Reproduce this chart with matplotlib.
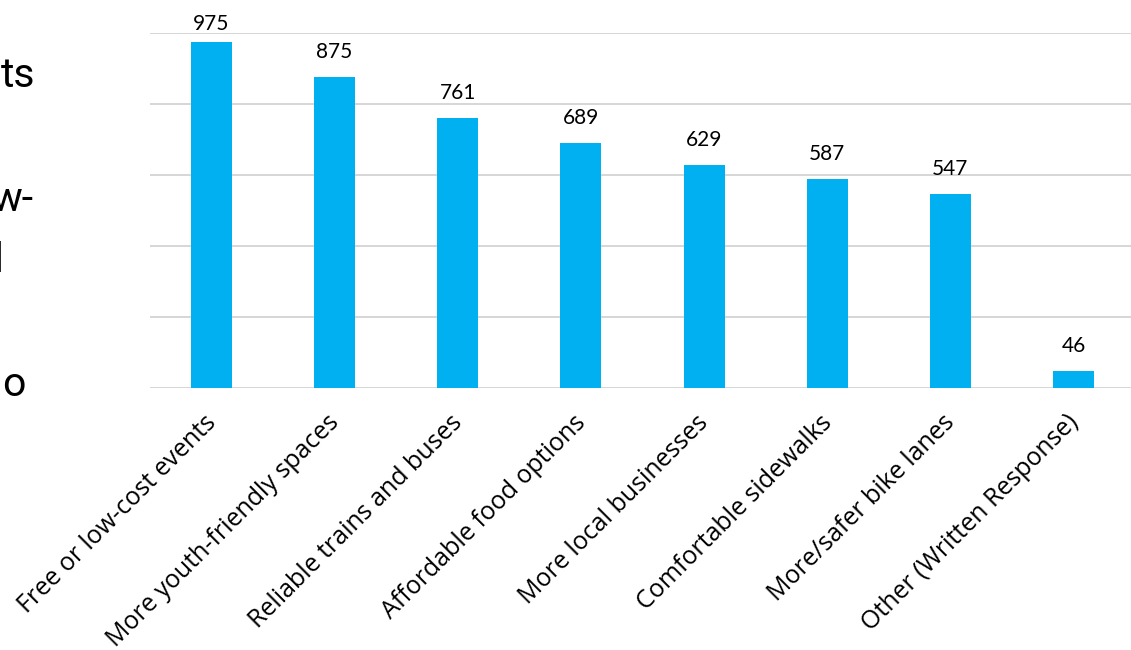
import matplotlib
matplotlib.use("Agg")
import matplotlib.pyplot as plt

categories = [
    "Free or low-cost events",
    "More youth-friendly spaces",
    "Reliable trains and buses",
    "Affordable food options",
    "More local businesses",
    "Comfortable sidewalks",
    "More/safer bike lanes",
    "Other (Written Response)",
]
values = [975, 875, 761, 689, 629, 587, 547, 46]
y_ticks = [0, 200, 400, 600, 800, 1000]
side_fragments = ["ts", "", "w-", "l", "", "o"]

W, H = 1131, 650
fig = plt.figure(figsize=(W / 100, H / 100), dpi=100)
fig.patch.set_facecolor("white")

ax = fig.add_axes([149.9 / W, (H - 387.5) / H, (1135.1 - 149.9) / W, 354.5 / H])
x = list(range(len(categories)))
ax.bar(x, values, width=0.333, color="#00B0F0", zorder=3)
ax.set_xlim(-0.5, len(categories) - 0.5)
ax.set_ylim(0, 1000)
ax.set_yticks(y_ticks)
ax.yaxis.grid(True, color="#D6D6D6", linewidth=1.4, zorder=0)
ax.tick_params(axis="y", length=0, labelleft=False)
ax.set_xticks(x)
ax.tick_params(axis="x", length=0, labelbottom=False)
for s in ax.spines.values():
    s.set_visible(False)

# rotated category labels: baseline end placed just right of / below each bar center
for xi, cat in zip(x, categories):
    ax.annotate(cat, (xi, 0), xytext=(5.5, -36), textcoords="offset pixels",
                rotation=45, ha="right", va="baseline", rotation_mode="anchor",
                fontsize=18.0, family="Open Sans", color="#000000",
                annotation_clip=False)

# value labels above bars (kept inside the top margin)
fig.canvas.draw()
for xi, v in zip(x, values):
    px, py = ax.transData.transform((xi, v))
    ty = min(py + 19, H - 30)
    fig.text(px / W, ty / H, str(v), ha="center", va="baseline",
             fontsize=15, family="Lato", color="#000000")

# cropped slide text on the left
for i, frag in enumerate(side_fragments):
    if not frag:
        continue
    base = 87 + i * 61.8
    right = {"ts": 35, "w-": 33, "l": 3.5, "o": 25}[frag]
    fig.text(right / W, (H - base) / H, frag, ha="right", va="baseline",
             fontsize=29.5, family="Roboto", color="#000000")

fig.savefig("out.png", dpi=100, facecolor="white")
